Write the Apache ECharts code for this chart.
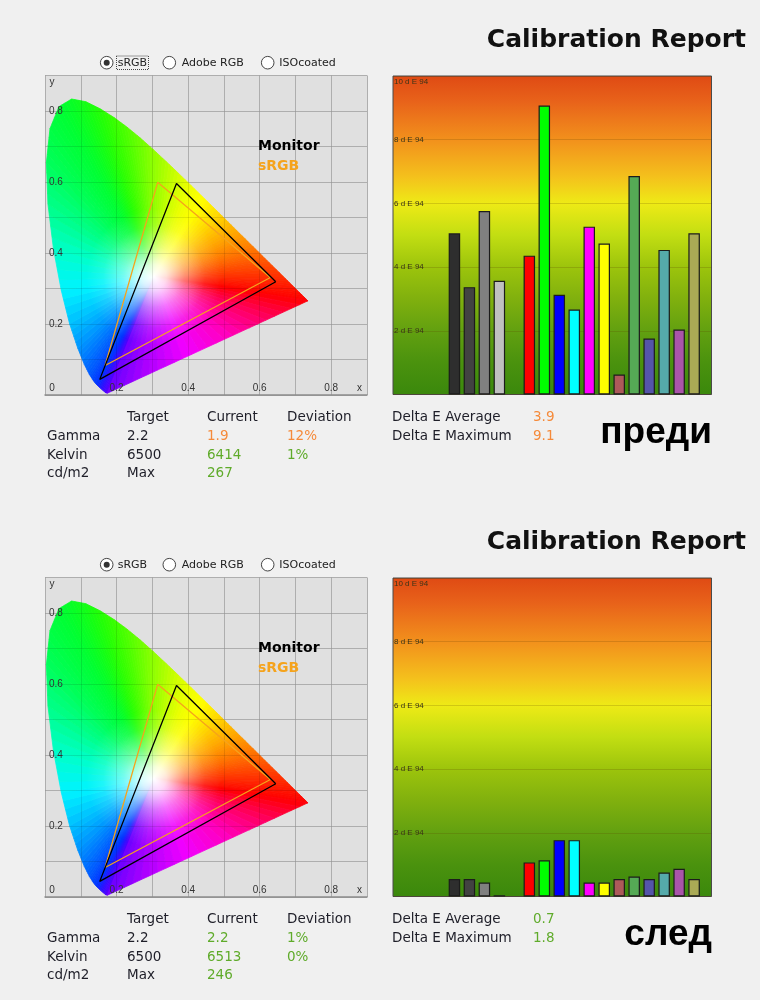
<!DOCTYPE html>
<html><head><meta charset="utf-8">
<script src="https://cdn.jsdelivr.net/npm/echarts@6/dist/echarts.min.js"></script>
<style>html,body{margin:0;padding:0;background:#f0f0f0}#c{width:760px;height:1000px}</style>
</head><body><div id="c"></div>
<script>
// ---------- DATA ----------
// CIE 1931 spectral locus
const locusX = [0.1741,0.1689,0.1566,0.1440,0.1355,0.1241,0.1096,0.0913,0.0687,0.0454,0.0235,0.0082,0.0039,0.0139,0.0389,0.0743,0.1142,0.1547,0.1929,0.2296,0.2658,0.3016,0.3373,0.3731,0.4087,0.4441,0.4788,0.5125,0.5448,0.5752,0.6029,0.6270,0.6658,0.6915,0.7190,0.7347];
const locusY = [0.0050,0.0069,0.0177,0.0297,0.0399,0.0578,0.0868,0.1327,0.2007,0.2950,0.4127,0.5384,0.6548,0.7502,0.8120,0.8338,0.8262,0.8059,0.7816,0.7543,0.7243,0.6923,0.6589,0.6245,0.5896,0.5547,0.5202,0.4866,0.4544,0.4242,0.3965,0.3725,0.3340,0.3083,0.2809,0.2653];
const locusColors = ['#6a00ff','#5000ff','#2a10ff','#0030ff','#0040ff','#0058ff','#0070ff','#0095ff','#00c0ff','#00f4ff','#00ffc8','#00ff88','#00ff5c','#00ff44','#00ff34','#08ff24','#14ff14','#24ff06','#38ff00','#50ff00','#6cff00','#8cff00','#acff00','#d0ff00','#eeff00','#ffff00','#ffe000','#ffbf00','#ffa000','#ff8200','#ff6800','#ff5000','#ff3000','#ff1c00','#ff0a00','#ff0000'];
const purpleColors = ['#ff0000','#ff0060','#ff00c0','#f000ff','#b000ff','#6a00ff'];
const whitePoint = [0.305, 0.333];

// gamut triangles (R, G, B vertices)
const monitorX = [0.645, 0.3675, 0.153];
const monitorY = [0.319, 0.596, 0.044];
const srgbX = [0.630, 0.315, 0.168];
const srgbY = [0.331, 0.599, 0.083];

// CIE axis ticks
const cieTicks = [0, 0.2, 0.4, 0.6, 0.8];

// Delta E bars
const patchSlots = [0,1,2,3,5,6,7,8,9,10,11,12,13,14,15,16];
const patchColors = ['#2e2e2e','#424242','#808080','#c0c0c0','#ff0000','#00ff00','#0000ff','#00ffff','#ff00ff','#ffff00','#ad5a5a','#55aa55','#5555aa','#55aaaa','#aa55aa','#aaaa55'];
const beforeDeltaE = [5.06,3.37,5.76,3.57,4.36,9.07,3.13,2.67,5.27,4.74,0.63,6.86,1.76,4.54,2.04,5.06];
const afterDeltaE  = [0.55,0.55,0.44,0.04,1.07,1.14,1.77,1.77,0.44,0.44,0.55,0.63,0.55,0.75,0.87,0.55];

// tables
const tableHeaders = ['Target','Current','Deviation'];
const rowLabels = ['Gamma','Kelvin','cd/m2'];
const targetValues = ['2.2','6500','Max'];
const beforeCurrent = ['1.9','6414','267'];
const beforeDeviation = ['12%','1%',''];
const afterCurrent = ['2.2','6513','246'];
const afterDeviation = ['1%','0%',''];
const deltaELabels = ['Delta E Average','Delta E Maximum'];
const beforeDeltaESummary = ['3.9','9.1'];
const afterDeltaESummary = ['0.7','1.8'];
const radioLabels = ['sRGB','Adobe RGB','ISOcoated'];
const title = 'Calibration Report';
const stageLabels = ['преди','след'];
const gamutLegend = ['Monitor','sRGB'];

// ---------- STYLE ----------
const ORANGE = '#f58a3a', GREEN = '#5fab2a', TXT = '#1e1e28';
const OFF = 502;
const FONT = '"DejaVu Sans"';
const SUB = 4, PURPLE_SUB = 24;

const chart = echarts.init(document.getElementById('c'));

function barBg() {
  return new echarts.graphic.LinearGradient(0,0,0,1,[
    {offset:0,color:'#df4a14'},{offset:0.08,color:'#e8621a'},{offset:0.2,color:'#f2901c'},
    {offset:0.32,color:'#f4c21c'},{offset:0.4,color:'#eeea16'},{offset:0.5,color:'#c2de12'},
    {offset:0.6,color:'#9cc40c'},{offset:0.7,color:'#80b00e'},{offset:0.8,color:'#62a010'},
    {offset:0.9,color:'#4a920e'},{offset:1,color:'#3a880c'}]);
}

function tickLabel(v, withZero) {
  const t = cieTicks.find(c => Math.abs(c - v) < 1e-6);
  if (t === undefined) return '';
  if (t === 0) return withZero ? '{z|0}' : '';
  return t.toFixed(1);
}
const mixPt = (a, b, t) => [a[0] + (b[0]-a[0])*t, a[1] + (b[1]-a[1])*t];

const grids = [], xAxes = [], yAxes = [], series = [];
function addPanel(o, values) {
  const gi = grids.length;
  grids.push({left:45, top:75.5+o, width:322, height:319.5, show:true, backgroundColor:'#e0e0e0', borderWidth:0});
  const xs = xAxes.length, ys = yAxes.length;
  // axes carrying the series and grid lines (under the horseshoe)
  xAxes.push({gridIndex:gi, type:'value', position:'top', min:0, max:0.9, interval:0.1, z:0,
    axisLine:{show:false}, axisTick:{show:false}, axisLabel:{show:false},
    splitLine:{show:true, lineStyle:{color:'#c2c2c2', width:1}}});
  yAxes.push({gridIndex:gi, type:'value', position:'right', min:0, max:0.9, interval:0.1, z:0,
    axisLine:{show:false}, axisTick:{show:false}, axisLabel:{show:false},
    splitLine:{show:true, lineStyle:{color:'#c2c2c2', width:1}}});
  // axes carrying tick labels and faint grid lines (over the horseshoe)
  xAxes.push({gridIndex:gi, type:'value', position:'bottom', min:0, max:0.9, interval:0.1, z:10,
    axisLine:{show:true, onZero:false, lineStyle:{color:'#8c8c8c', width:1.5}}, axisTick:{show:false},
    splitLine:{show:true, lineStyle:{color:'rgba(0,0,0,0.1)', width:1}},
    axisLabel:{inside:true, margin:2, fontSize:10, fontFamily:'Liberation Sans', color:'#333', showMinLabel:true, showMaxLabel:true,
      formatter: v => tickLabel(v, true),
      rich:{z:{padding:[0,0,0,14], fontSize:10, fontFamily:'Liberation Sans', color:'#333'}}}});
  yAxes.push({gridIndex:gi, type:'value', position:'left', min:0, max:0.9, interval:0.1, z:10,
    axisLine:{show:false, onZero:false}, axisTick:{show:false},
    splitLine:{show:true, lineStyle:{color:'rgba(0,0,0,0.1)', width:1}},
    axisLabel:{inside:true, margin:4, fontSize:10, fontFamily:'Liberation Sans', color:'#333',
      formatter: v => tickLabel(v, false)}});
  const n = locusX.length;
  series.push({type:'custom', xAxisIndex:xs, yAxisIndex:ys, silent:true, z:2, clip:false,
    data: locusX.map((x,i)=>[x, locusY[i]]),
    renderItem(params, api) {
      const i = params.dataIndex;
      const w = api.coord(whitePoint);
      const p = api.coord([locusX[i], locusY[i]]);
      const j = (i+1) % n;
      const q = api.coord([locusX[j], locusY[j]]);
      const children = [];
      const steps = i < n-1 ? SUB : PURPLE_SUB;
      for (let s = 0; s < steps; s++) {
        const a = mixPt(p, q, s/steps), b = mixPt(p, q, (s+1)/steps);
        const tm = (s+0.5)/steps;
        const col = i < n-1 ? echarts.color.lerp(tm, [locusColors[i], locusColors[j]]) : echarts.color.lerp(tm, purpleColors);
        children.push({type:'polygon', shape:{points:[w,a,b]}, style:{fill:col, stroke:col, lineWidth:0.8}});
      }
      if (i === n-1) {
        const pts = locusX.map((x,k)=>api.coord([x, locusY[k]]));
        const r = Math.abs(api.coord([whitePoint[0]+0.19, whitePoint[1]])[0] - w[0]);
        children.push({type:'polygon', shape:{points:pts}, style:{fill:new echarts.graphic.RadialGradient(w[0], w[1], r, [
          {offset:0,color:'rgba(255,255,255,1)'},{offset:0.18,color:'rgba(255,255,255,0.85)'},
          {offset:0.45,color:'rgba(255,255,255,0.45)'},{offset:0.75,color:'rgba(255,255,255,0.12)'},
          {offset:1,color:'rgba(255,255,255,0)'}], true)}});
      }
      return {type:'group', children};
    }});
  const tri = (xs_, ys_) => xs_.concat(xs_[0]).map((x,i)=>[x, ys_.concat(ys_[0])[i]]);
  series.push({type:'line', xAxisIndex:xs, yAxisIndex:ys, z:11, symbol:'none', silent:true,
    data: tri(srgbX, srgbY), lineStyle:{color:'#f5a31c', width:1.3}});
  series.push({type:'line', xAxisIndex:xs, yAxisIndex:ys, z:12, symbol:'none', silent:true,
    data: tri(monitorX, monitorY), lineStyle:{color:'#000', width:1.3}});

  // Bar grid
  const bi = grids.length;
  grids.push({left:393, top:76+o, width:318.5, height:318.5, show:true, backgroundColor:barBg(), borderColor:'#4a4a4a', borderWidth:1});
  const bx = xAxes.length, by = yAxes.length;
  xAxes.push({gridIndex:bi, type:'value', min:-4.1, max:17.16, show:false});
  yAxes.push({gridIndex:bi, type:'value', min:0, max:10, interval:2,
    axisLine:{show:false}, axisTick:{show:false},
    splitLine:{show:true, lineStyle:{color:'rgba(90,60,0,0.2)', width:1}},
    axisLabel:{inside:true, margin:1, fontSize:8, fontFamily:'Liberation Sans', color:'#3a3418', showMaxLabel:true,
      formatter: v => { if (v === 0) return ''; return v === 10 ? '{t|' + v + ' d E 94}' : v + ' d E 94'; },
      rich:{t:{padding:[12,0,0,0], fontSize:8, fontFamily:'Liberation Sans', color:'#3a3418'}}}});
  series.push({type:'bar', xAxisIndex:bx, yAxisIndex:by, barWidth:11.5, silent:true,
    data: patchSlots.map((s,i)=>({value:[s, values[i]], itemStyle:{color:patchColors[i]}})),
    itemStyle:{borderColor:'#1c1c1c', borderWidth:1.2}});
}
addPanel(0, beforeDeltaE);
addPanel(OFF, afterDeltaE);

// ---------- TEXT / DECORATION ----------
const graphics = [];
function txt(x, y, text, font, fill, align) {
  graphics.push({type:'text', x, y, silent:true, z:20,
    style:{text, font, fill, align:align||'left', verticalAlign:'middle', textAlign:align||'left', textVerticalAlign:'middle'}});
}
function panelText(o, current, deviation, summary, idx) {
  txt(746, 40+o, title, 'bold 25px ' + FONT, '#111', 'right');
  txt(712, 433+o, stageLabels[idx], 'bold 37px "Liberation Sans"', '#000', 'right');
  const cx = [106.7, 169.3, 267.7], tx = [117.7, 181.7, 279.3];
  radioLabels.forEach((l, k) => {
    graphics.push({type:'circle', silent:true, z:20, shape:{cx:cx[k], cy:62.7+o, r:6.3}, style:{fill:'#fff', stroke:'#444', lineWidth:1}});
    if (k === 0) graphics.push({type:'circle', silent:true, z:21, shape:{cx:cx[k], cy:62.7+o, r:3}, style:{fill:'#333'}});
    txt(tx[k], 62.7+o, l, '11px ' + FONT, '#222');
  });
  if (idx === 0) graphics.push({type:'rect', silent:true, z:20, shape:{x:116.5, y:56+o, width:32, height:13.5}, style:{fill:null, stroke:'#444', lineWidth:1, lineDash:[1,1]}});
  txt(49.5, 82+o, 'y', '10px "Liberation Sans"', '#333');
  txt(357, 388.5+o, 'x', '10px "Liberation Sans"', '#333');
  txt(258, 146.7+o, gamutLegend[0], 'bold 14px ' + FONT, '#000');
  txt(258, 166.2+o, gamutLegend[1], 'bold 14px ' + FONT, '#f5a31c');
  const colX = [127, 207, 287], rowY = [436, 455, 473.5];
  const f = '13.5px ' + FONT;
  tableHeaders.forEach((h, k) => txt(colX[k], 417+o, h, f, TXT));
  rowLabels.forEach((r, k) => {
    txt(47, rowY[k]+o, r, f, TXT);
    txt(colX[0], rowY[k]+o, targetValues[k], f, TXT);
    const dev = parseFloat(deviation[k]);
    const bad = !isNaN(dev) && dev > 5;
    txt(colX[1], rowY[k]+o, current[k], f, bad ? ORANGE : GREEN);
    if (deviation[k]) txt(colX[2], rowY[k]+o, deviation[k], f, bad ? ORANGE : GREEN);
  });
  deltaELabels.forEach((l, k) => {
    txt(392, [417, 436][k]+o, l, f, TXT);
    const v = parseFloat(summary[k]);
    txt(533, [417, 436][k]+o, summary[k], f, v > 2.5 ? ORANGE : GREEN);
  });
}
panelText(0, beforeCurrent, beforeDeviation, beforeDeltaESummary, 0);
panelText(OFF, afterCurrent, afterDeviation, afterDeltaESummary, 1);

chart.setOption({
  backgroundColor:'#f0f0f0',
  animation:false,
  grid:grids, xAxis:xAxes, yAxis:yAxes, series,
  graphic:graphics
});
</script></body></html>
